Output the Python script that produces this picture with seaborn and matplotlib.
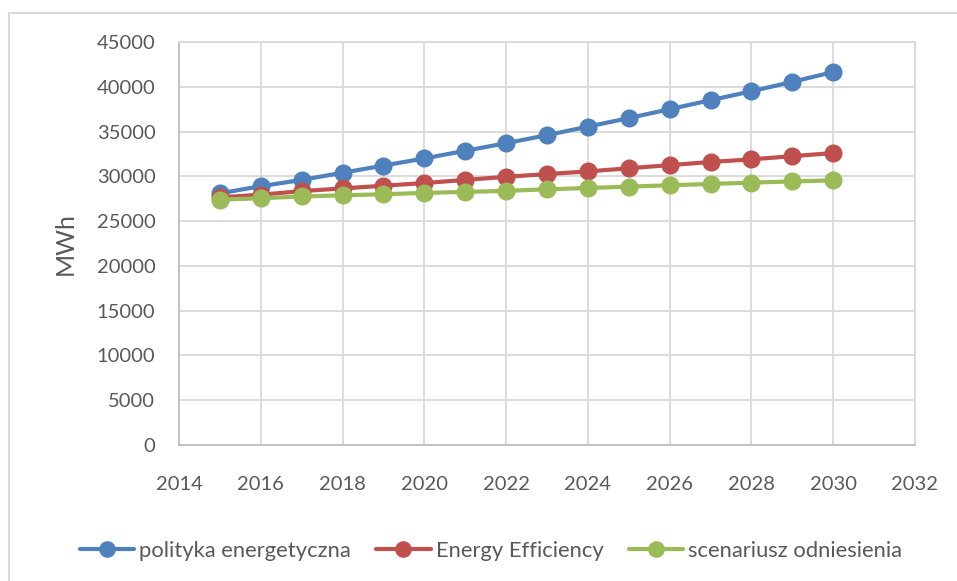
import matplotlib
matplotlib.use("Agg")
import matplotlib.pyplot as plt
from matplotlib.patches import Rectangle
import pandas as pd
import seaborn as sns

# Annual energy demand scenarios (MWh)
years = list(range(2015, 2031))
polityka_energetyczna = [28100, 28900, 29600, 30400, 31200, 32000, 32850, 33700,
                         34600, 35550, 36500, 37500, 38500, 39500, 40550, 41650]
energy_efficiency = [27650, 27950, 28350, 28650, 28950, 29250, 29600, 29950,
                     30250, 30550, 30900, 31250, 31600, 31900, 32250, 32600]
scenariusz_odniesienia = [27400, 27550, 27750, 27880, 28000, 28150, 28260, 28380,
                          28550, 28700, 28850, 29000, 29150, 29300, 29430, 29550]

series_names = ["polityka energetyczna", "Energy Efficiency", "scenariusz odniesienia"]
series_colors = ["#4F81BD", "#C0504D", "#9BBB59"]

x_ticks = list(range(2014, 2033, 2))
y_ticks = list(range(0, 45001, 5000))
y_label = "MWh"

df = pd.DataFrame({
    "rok": years * 3,
    "wartosc": polityka_energetyczna + energy_efficiency + scenariusz_odniesienia,
    "seria": [series_names[0]] * len(years) + [series_names[1]] * len(years)
             + [series_names[2]] * len(years),
})

sns.set_theme(style="white")
plt.rcParams["font.family"] = ["Lato", "DejaVu Sans"]
text_color = "#595959"
grid_color = "#D9D9D9"

fig = plt.figure(figsize=(9.57, 5.81), dpi=100)
ax = fig.add_axes([179 / 957, 1 - 445 / 581, (915 - 179) / 957, (445 - 42) / 581])

sns.lineplot(data=df, x="rok", y="wartosc", hue="seria", hue_order=series_names,
             palette=series_colors, marker="o", markersize=13, markeredgewidth=0,
             linewidth=3, ax=ax, legend=True)

ax.set_xlim(2014, 2032)
ax.set_ylim(0, 45000)
ax.set_xticks(x_ticks)
ax.set_yticks(y_ticks)
ax.set_xticklabels([str(t) for t in x_ticks])
ax.set_yticklabels([str(t) for t in y_ticks])
ax.grid(True, color=grid_color, linewidth=1.3)
ax.set_axisbelow(True)
for side in ["left", "right", "top", "bottom"]:
    ax.spines[side].set_visible(True)
    ax.spines[side].set_color(grid_color)
    ax.spines[side].set_linewidth(1.3)
ax.spines["left"].set_color("#BFBFBF")
ax.spines["bottom"].set_color("#BFBFBF")
ax.tick_params(axis="both", length=0, labelsize=14.5, labelcolor=text_color)
ax.tick_params(axis="y", pad=17)
ax.tick_params(axis="x", pad=22)
ax.set_xlabel("")
ax.set_ylabel(y_label, fontsize=18, color=text_color, labelpad=14)

handles, labels = ax.get_legend_handles_labels()
for h in handles:
    h.set_markersize(12)
ax.legend(handles, labels, loc="center", bbox_to_anchor=(0.513, 0.052),
          bbox_transform=fig.transFigure, ncol=3, frameon=False,
          fontsize=15.8, labelcolor=text_color, handlelength=2.47,
          handletextpad=0.23, columnspacing=1.15, borderpad=0, borderaxespad=0)

# chart-area border
fig.patches.append(Rectangle((8.5 / 957, -0.1), 1.2, 1 - 13 / 581 + 0.1,
                             transform=fig.transFigure, fill=False,
                             edgecolor=grid_color, linewidth=1.5))

fig.savefig("out.png", dpi=100)
